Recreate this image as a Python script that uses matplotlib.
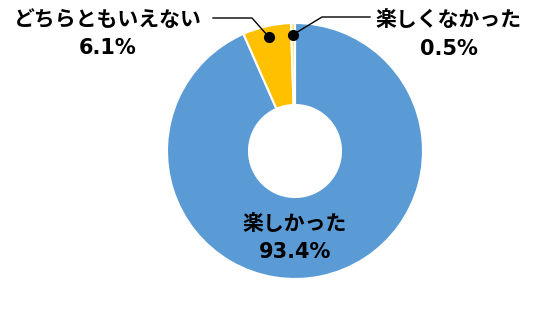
import numpy as np
import matplotlib
matplotlib.use("Agg")
import matplotlib.pyplot as plt

plt.rcParams['font.family'] = ['Noto Sans CJK JP', 'DejaVu Sans']

# answers, in clockwise order starting from 12 o'clock
labels = ["楽しかった", "どちらともいえない", "楽しくなかった"]
values = [93.4, 6.1, 0.5]
colors = ["#5B9BD5", "#FFC000", "#FFE38A"]

W, H = 555, 312
CX, CY = 295, 161      # donut centre (pixel units, y up)
R = 128
HOLE = 46

fig = plt.figure(figsize=(W / 100, H / 100), dpi=100)
ax = fig.add_axes([0, 0, 1, 1])

wedges, _ = ax.pie(values, colors=colors, startangle=90, counterclock=False,
                   center=(CX, CY), radius=R, frame=True,
                   wedgeprops=dict(width=R - HOLE, edgecolor='white', linewidth=1.5))
ax.set_xlim(0, W)
ax.set_ylim(0, H)
ax.set_aspect('equal')
ax.axis('off')

name_kw = dict(fontsize=15, fontweight='bold', ha='center', va='center', color='black')
num_kw = dict(fontsize=15, fontweight='bold', ha='center', va='center', color='black',
              family='DejaVu Sans')

def label(x, y_name, y_num, i):
    ax.text(x, H - y_name, labels[i], **name_kw)
    ax.text(x, H - y_num, f"{values[i]:.1f}%", **num_kw)

# big slice label inside the ring
label(CX, 224, 252, 0)

mids = [np.deg2rad((w.theta1 + w.theta2) / 2) for w in wedges]
r_dot = 0.91 * R

# どちらともいえない (left)
a = mids[1]
dx, dy = CX + r_dot * np.cos(a), CY + r_dot * np.sin(a)
label(108, 19, 48, 1)
ax.plot([213, 252, dx], [H - 18, H - 18, dy], color='black', lw=1)
ax.plot(dx, dy, 'o', color='black', ms=7)

# 楽しくなかった (right)
a = mids[2]
dx, dy = CX + r_dot * np.cos(a), CY + r_dot * np.sin(a)
label(449, 19, 49, 2)
ax.plot([dx, 322, 370], [dy, H - 17, H - 17], color='black', lw=1)
ax.plot(dx, dy, 'o', color='black', ms=7)

plt.savefig("out.png", dpi=100)
